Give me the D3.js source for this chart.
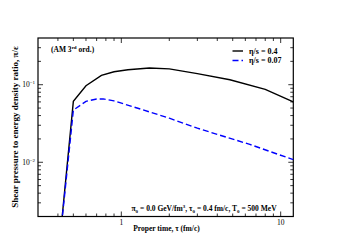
<!DOCTYPE html>
<html>
<head>
<meta charset="utf-8">
<script src="https://cdn.jsdelivr.net/npm/d3@7"></script>
<style>
    body { margin: 0; background: #fff; }
    svg text { font-family: "Liberation Serif", "DejaVu Serif", serif; font-weight: bold; }
</style>
</head>
<body>
<svg id="chart" width="351" height="248"></svg>
<script>
// proper time (fm/c) and shear pressure / energy density
var tauEta04   = [0.4, 0.5, 0.6, 0.75, 0.9, 1.1, 1.5, 2, 3, 4.8, 8, 12];
var ratioEta04 = [0.00054, 0.061, 0.097, 0.132, 0.147, 0.156, 0.164, 0.160, 0.139, 0.116, 0.087, 0.060];

var tauEta007   = [0.4, 0.5, 0.6, 0.7, 0.77, 0.9, 1.3, 2, 3, 6.4, 12];
var ratioEta007 = [0.00055, 0.047, 0.061, 0.0655, 0.0656, 0.0618, 0.049, 0.037, 0.0275, 0.017, 0.0108];

var seriesNames = ["η/s = 0.4", "η/s = 0.07"];
var xMajorTicks = [1, 10];
var xMinorTicks = [0.4, 0.5, 0.6, 0.7, 0.8, 0.9, 2, 3, 4, 5, 6, 7, 8, 9];
var yMajorTicks = [0.01, 0.1];
var yMinorTicks = [0.003, 0.004, 0.005, 0.006, 0.007, 0.008, 0.009,
                   0.02, 0.03, 0.04, 0.05, 0.06, 0.07, 0.08, 0.09, 0.2, 0.3];

// plot frame (note: "top" is reserved on window, so use plot_*)
var plot_left = 38, plot_top = 38, plot_right = 293.3, plot_bottom = 216.5;

var svg = d3.select("#chart");

var x = d3.scaleLog().domain([0.3, 12]).range([plot_left, plot_right]);
var y = d3.scaleLog().domain([0.002, 0.4]).range([plot_bottom, plot_top]);

svg.append("clipPath").attr("id", "plotclip")
    .append("rect")
    .attr("x", plot_left).attr("y", plot_top)
    .attr("width", plot_right - plot_left).attr("height", plot_bottom - plot_top);

// ticks, all pointing inward, on all four sides
function tickLines(vals, len, horizontal) {
    vals.forEach(function(v) {
        if (horizontal) {
            var px = x(v);
            svg.append("line").attr("x1", px).attr("x2", px)
                .attr("y1", plot_bottom).attr("y2", plot_bottom - len)
                .attr("stroke", "#000").attr("stroke-width", 0.8);
            svg.append("line").attr("x1", px).attr("x2", px)
                .attr("y1", plot_top).attr("y2", plot_top + len)
                .attr("stroke", "#000").attr("stroke-width", 0.8);
        }
        else {
            var py = y(v);
            svg.append("line").attr("x1", plot_left).attr("x2", plot_left + len)
                .attr("y1", py).attr("y2", py)
                .attr("stroke", "#000").attr("stroke-width", 0.8);
            svg.append("line").attr("x1", plot_right).attr("x2", plot_right - len)
                .attr("y1", py).attr("y2", py)
                .attr("stroke", "#000").attr("stroke-width", 0.8);
        }
    });
}
tickLines(xMajorTicks, 5, true);
tickLines(xMinorTicks, 3, true);
tickLines(yMajorTicks, 5, false);
tickLines(yMinorTicks, 3, false);

// frame
svg.append("rect")
    .attr("x", plot_left).attr("y", plot_top)
    .attr("width", plot_right - plot_left).attr("height", plot_bottom - plot_top)
    .attr("fill", "none").attr("stroke", "#000").attr("stroke-width", 1.2);

// x tick labels
svg.selectAll("text.xlab")
    .data(xMajorTicks)
    .enter()
    .append("text")
    .attr("class", "xlab")
    .attr("x", function(d) { return x(d); })
    .attr("y", 224.5)
    .attr("text-anchor", "middle")
    .attr("font-size", "7.5px")
    .style("font-weight", "normal")
    .text(function(d) { return d3.format("d")(d); });

// y tick labels 10^n
yMajorTicks.forEach(function(v) {
    var t = svg.append("text")
        .attr("x", 35)
        .attr("y", y(v) + 2.5)
        .attr("text-anchor", "end")
        .attr("font-size", "7.5px")
        .style("font-weight", "normal");
    t.append("tspan").text("10");
    t.append("tspan")
        .attr("font-size", "5px")
        .attr("dy", -3)
        .text(String(Math.round(Math.log10(v))).replace("-", "−"));
});

// curves
var line = d3.line()
    .x(function(d) { return x(d[0]); })
    .y(function(d) { return y(d[1]); });

var curveData = [
    { pts: d3.zip(tauEta04, ratioEta04), color: "#000", dash: null },
    { pts: d3.zip(tauEta007, ratioEta007), color: "#0000ff", dash: "6,3" }
];

svg.append("g").attr("clip-path", "url(#plotclip)")
    .selectAll("path")
    .data(curveData)
    .enter()
    .append("path")
    .attr("d", function(d) { return line(d.pts); })
    .attr("fill", "none")
    .attr("stroke", function(d) { return d.color; })
    .attr("stroke-width", 1.4)
    .attr("stroke-dasharray", function(d) { return d.dash; });

// legend
curveData.forEach(function(d, i) {
    var ly = 51 + i * 9.5;
    svg.append("line")
        .attr("x1", 232.5).attr("x2", 243)
        .attr("y1", ly).attr("y2", ly)
        .attr("stroke", d.color).attr("stroke-width", 1.4)
        .attr("stroke-dasharray", d.dash);
    svg.append("text")
        .attr("x", 249).attr("y", ly + 2.8)
        .attr("font-size", "8px")
        .text(seriesNames[i]);
});

// method note
var note = svg.append("text")
    .attr("x", 51).attr("y", 52)
    .attr("font-size", "7.5px");
note.append("tspan").text("(AM 3");
note.append("tspan").attr("font-size", "5px").attr("dy", -3).text("rd");
note.append("tspan").attr("dy", 3).text(" ord.)");

// initial conditions
var cond = svg.append("text")
    .attr("x", 131.5).attr("y", 211)
    .attr("font-size", "7.5px");
cond.append("tspan").text("π");
cond.append("tspan").attr("font-size", "5px").attr("dy", 1.6).text("0");
cond.append("tspan").attr("dy", -1.6).text(" = 0.0 GeV/fm");
cond.append("tspan").attr("font-size", "5px").attr("dy", -3.2).text("3");
cond.append("tspan").attr("dy", 3.2).text(", τ");
cond.append("tspan").attr("font-size", "5px").attr("dy", 1.6).text("0");
cond.append("tspan").attr("dy", -1.6).text(" = 0.4 fm/c, T");
cond.append("tspan").attr("font-size", "5px").attr("dy", 1.6).text("0");
cond.append("tspan").attr("dy", -1.6).text(" = 500 MeV");

// axis titles
svg.append("text")
    .attr("x", 166.5).attr("y", 230.5)
    .attr("text-anchor", "middle")
    .attr("font-size", "7.5px")
    .text("Proper time, τ (fm/c)");

svg.append("text")
    .attr("transform", "translate(18,127) rotate(-90)")
    .attr("text-anchor", "middle")
    .attr("font-size", "9px")
    .text("Shear pressure to energy density ratio, π/ε");
</script>
</body>
</html>
